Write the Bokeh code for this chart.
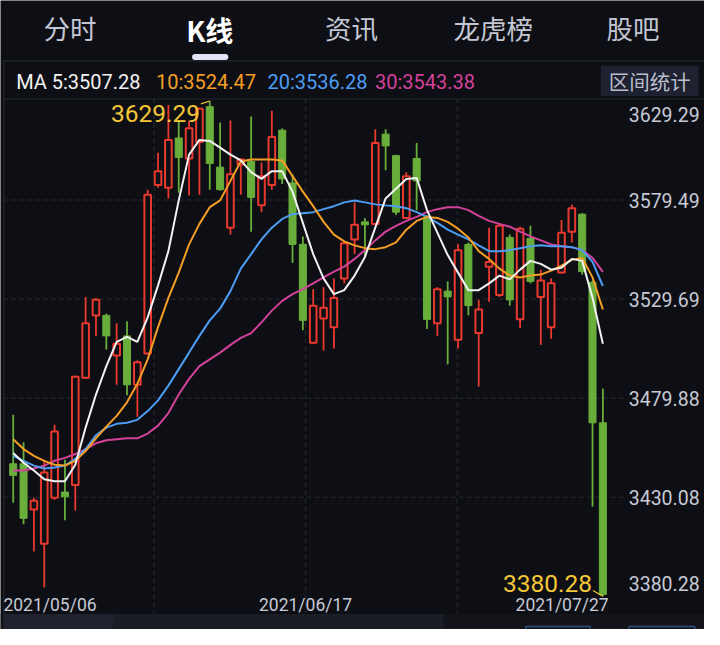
from bokeh.plotting import figure
from bokeh.models import Range1d
from bokeh.core.properties import value
from bokeh.embed import file_html
from bokeh.resources import INLINE

# ---------------- data ----------------
dates = ["05/06", "05/07", "05/10", "05/11", "05/12", "05/13", "05/14", "05/17", "05/18", "05/19",
         "05/20", "05/21", "05/24", "05/25", "05/26", "05/27", "05/28", "05/31", "06/01", "06/02",
         "06/03", "06/04", "06/07", "06/08", "06/09", "06/10", "06/11", "06/15", "06/16", "06/17",
         "06/18", "06/21", "06/22", "06/23", "06/24", "06/25", "06/28", "06/29", "06/30", "07/01",
         "07/02", "07/05", "07/06", "07/07", "07/08", "07/09", "07/12", "07/13", "07/14", "07/15",
         "07/16", "07/19", "07/20", "07/21", "07/22", "07/23", "07/26", "07/27"]

opens = [3446.9, 3446.9, 3423.9, 3406.7, 3429.8, 3432.7, 3436.2, 3490.1, 3521.5, 3521.5,
         3501.4, 3511.2, 3486.6, 3502.3, 3587.1, 3585.7, 3610.7, 3600.4, 3608.7, 3626.4,
         3596.0, 3565.6, 3597.4, 3598.9, 3576.8, 3587.1, 3614.6, 3588.1, 3557.2, 3507.7,
         3520.0, 3515.6, 3540.1, 3559.7, 3568.5, 3567.5, 3612.6, 3601.8, 3570.5, 3600.4,
         3571.0, 3517.5, 3533.7, 3509.2, 3557.2, 3512.6, 3546.0, 3531.8, 3560.7, 3519.5,
         3560.2, 3530.8, 3515.6, 3543.0, 3563.6, 3572.4, 3538.1, 3467.5]
highs = [3471.5, 3457.7, 3429.8, 3448.4, 3466.5, 3448.9, 3491.1, 3530.8, 3530.3, 3522.4,
         3517.5, 3518.5, 3498.9, 3584.7, 3603.3, 3627.3, 3619.5, 3619.5, 3625.9, 3629.29,
         3618.5, 3619.5, 3600.4, 3621.5, 3598.4, 3624.4, 3615.5, 3592.5, 3561.2, 3534.7,
         3535.7, 3540.1, 3558.7, 3578.3, 3570.5, 3615.1, 3615.1, 3602.3, 3593.5, 3608.2,
         3571.9, 3535.7, 3538.6, 3557.2, 3558.2, 3529.3, 3565.6, 3567.5, 3562.1, 3566.0,
         3566.5, 3544.5, 3540.1, 3569.5, 3577.3, 3572.9, 3539.1, 3484.7]
lows = [3427.3, 3416.5, 3402.8, 3384.7, 3428.8, 3418.5, 3423.4, 3489.6, 3511.2, 3504.3,
        3486.6, 3481.3, 3470.5, 3501.8, 3585.7, 3580.3, 3583.2, 3581.7, 3582.2, 3584.7,
        3584.2, 3562.1, 3582.2, 3563.6, 3573.4, 3584.7, 3587.6, 3547.9, 3514.1, 3507.2,
        3503.8, 3504.8, 3537.6, 3552.3, 3550.9, 3567.0, 3594.5, 3571.9, 3570.0, 3574.4,
        3514.6, 3511.2, 3496.9, 3504.8, 3521.5, 3485.7, 3528.3, 3530.8, 3526.4, 3515.1,
        3537.6, 3506.7, 3509.7, 3542.5, 3558.2, 3542.0, 3425.4, 3380.28]
closes = [3441.1, 3419.5, 3428.3, 3442.5, 3463.1, 3430.3, 3490.6, 3517.5, 3529.3, 3511.2,
          3507.2, 3486.6, 3497.9, 3582.2, 3594.0, 3609.7, 3600.9, 3615.6, 3625.4, 3597.9,
          3584.7, 3592.5, 3599.9, 3580.8, 3591.5, 3611.2, 3590.1, 3557.2, 3519.0, 3526.4,
          3525.4, 3530.3, 3557.7, 3567.0, 3567.0, 3608.2, 3606.7, 3573.4, 3591.5, 3589.1,
          3519.5, 3534.7, 3530.8, 3554.3, 3526.4, 3524.4, 3548.4, 3566.5, 3529.3, 3565.1,
          3538.6, 3539.1, 3537.6, 3563.1, 3575.4, 3543.5, 3467.5, 3381.18]

ma5 = [3452.3, 3447.4, 3443.5, 3439.1, 3438.1, 3438.1, 3446.4, 3465.1, 3481.7, 3496.0,
       3508.2, 3510.7, 3508.2, 3520.5, 3536.6, 3553.8, 3579.3, 3602.3, 3609.7, 3609.2,
       3605.8, 3602.3, 3599.4, 3593.5, 3590.1, 3594.0, 3594.0, 3583.7, 3568.0, 3552.3,
       3540.1, 3532.2, 3534.2, 3541.5, 3550.9, 3565.6, 3580.3, 3585.2, 3590.1, 3590.6,
       3574.4, 3563.1, 3551.8, 3543.0, 3534.2, 3534.2, 3537.6, 3541.5, 3539.6, 3544.5,
       3548.9, 3547.4, 3544.5, 3545.5, 3549.9, 3548.9, 3530.3, 3507.28]
ma10 = [3459.2, 3454.3, 3450.9, 3448.4, 3446.4, 3446.0, 3448.4, 3453.3, 3459.7, 3465.6,
        3471.0, 3477.8, 3487.1, 3499.4, 3515.6, 3530.3, 3543.0, 3557.2, 3567.5, 3575.9,
        3579.3, 3589.1, 3598.9, 3599.9, 3599.9, 3599.9, 3599.4, 3591.5, 3583.7, 3576.4,
        3568.5, 3562.1, 3558.7, 3556.7, 3555.3, 3554.8, 3555.8, 3558.2, 3564.6, 3569.0,
        3571.0, 3570.5, 3568.5, 3565.1, 3560.7, 3553.8, 3549.9, 3545.0, 3541.5, 3540.6,
        3541.5, 3542.0, 3544.0, 3546.5, 3549.4, 3550.4, 3540.6, 3524.47]
ma20 = [3450.9, 3448.4, 3446.0, 3444.5, 3445.0, 3446.0, 3449.4, 3454.3, 3461.2, 3465.1,
        3467.0, 3467.5, 3469.0, 3473.4, 3478.8, 3486.2, 3494.5, 3502.8, 3511.2, 3519.0,
        3524.9, 3533.7, 3545.0, 3552.3, 3559.7, 3565.6, 3570.0, 3572.4, 3572.9, 3573.4,
        3574.9, 3576.4, 3578.3, 3579.3, 3578.3, 3577.3, 3576.8, 3576.4, 3575.4, 3573.4,
        3571.0, 3568.0, 3564.6, 3562.1, 3559.7, 3556.7, 3553.8, 3553.8, 3554.3, 3555.3,
        3556.3, 3556.7, 3556.3, 3556.3, 3555.8, 3554.3, 3548.4, 3536.28]
ma30 = [3443.5, 3443.5, 3444.5, 3446.0, 3448.4, 3449.9, 3451.8, 3454.3, 3457.2, 3458.7,
        3459.2, 3459.7, 3459.7, 3462.1, 3466.1, 3472.4, 3481.7, 3489.6, 3496.0, 3499.4,
        3502.8, 3506.7, 3510.2, 3512.6, 3518.0, 3523.9, 3528.8, 3532.2, 3534.7, 3537.6,
        3540.6, 3543.5, 3546.0, 3549.9, 3554.3, 3559.2, 3563.6, 3566.5, 3569.0, 3571.0,
        3573.4, 3574.9, 3575.9, 3575.9, 3574.4, 3571.5, 3569.0, 3567.5, 3566.1, 3563.6,
        3561.2, 3559.2, 3557.2, 3556.3, 3555.8, 3554.3, 3550.4, 3543.38]

price_ticks = [3629.29, 3579.49, 3529.69, 3479.88, 3430.08, 3380.28]
tick_labels = ["3629.29", "3579.49", "3529.69", "3479.88", "3430.08", "3380.28"]
date_labels = ["2021/05/06", "2021/06/17", "2021/07/27"]
tabs = ["分时", "K线", "资讯", "龙虎榜", "股吧"]
ma_names = ["MA 5:", "10:", "20:", "30:"]
button_text = "区间统计"

# ---------------- styling ----------------
BG = "#0e0f14"
UP = "#e8392f"
DOWN = "#69ae3b"
C_MA = ["#f2f2f2", "#f59e25", "#4c9df3", "#d2429b"]
AXIS_TXT = "#c6cad6"
GRID = "#2a2d36"
YELLOW = "#f3c737"

X0, STEP = 13.0, 10.58       # reference pixel of candle 0, pixels per candle
Y0, PPU = 103.0, 2.0401      # reference pixel of the top price, pixels per point
TOP = price_ticks[0]


def xd(px):
    return (px - X0) / STEP


def yd(py):
    return TOP - (py - Y0) / PPU


p = figure(width=704, height=629,
           x_range=Range1d(xd(0), xd(720)), y_range=Range1d(yd(645), yd(0)),
           x_axis_type=None, y_axis_type=None,
           toolbar_location=None, output_backend="svg", min_border=0)
p.outline_line_color = None
p.background_fill_color = BG
p.border_fill_color = BG


def txt(x, y, t, color, size, font="Roboto", align="left", style="normal", baseline="middle"):
    p.text(x=x, y=y, text=t, text_color=color, text_font=value(font),
           text_font_size=value(size), text_align=align, text_baseline=baseline,
           text_font_style=style)


# bottom band
p.quad(left=[xd(0)], right=[xd(720)], bottom=[yd(645)], top=[yd(629)], fill_color="#121419", line_color=None)
p.quad(left=[xd(3)], right=[xd(453)], bottom=[yd(645)], top=[yd(629)], fill_color="#1a1d26", line_color=None)
p.quad(left=[xd(3)], right=[xd(115)], bottom=[yd(645)], top=[yd(629)], fill_color="#20232f", line_color=None)
p.quad(left=[xd(537), xd(643)], right=[xd(603), xd(710)], bottom=[yd(648), yd(648)], top=[yd(642), yd(642)],
       fill_color=None, line_color="#2d4f86", line_width=1.5)

# frame lines
p.segment(x0=[xd(0)], y0=[yd(62)], x1=[xd(720)], y1=[yd(62)], line_color="#23262e", line_width=1.2)
p.segment(x0=[xd(3.5)], y0=[yd(62)], x1=[xd(3.5)], y1=[yd(629)], line_color="#23262e", line_width=1.2)
p.segment(x0=[xd(3)], y0=[yd(101)], x1=[xd(720)], y1=[yd(101)], line_color="#23262e", line_width=1.2)

# dashed grid
mid = price_ticks[1:5]
p.segment(x0=[xd(3)] * len(mid), y0=mid, x1=[xd(640)] * len(mid), y1=mid,
          line_color=GRID, line_width=1, line_dash="4 4")
vx = [xd(157), xd(312), xd(467)]
p.segment(x0=vx, y0=[yd(101)] * 3, x1=vx, y1=[yd(628)] * 3,
          line_color=GRID, line_width=1, line_dash="4 4")

# candles
idx = list(range(len(closes)))
up = [i for i in idx if closes[i] >= opens[i]]
dn = [i for i in idx if closes[i] < opens[i]]
p.segment(x0=up, y0=[lows[i] for i in up], x1=up, y1=[highs[i] for i in up], line_color=UP, line_width=1.8)
p.segment(x0=dn, y0=[lows[i] for i in dn], x1=dn, y1=[highs[i] for i in dn], line_color=DOWN, line_width=1.8)
p.vbar(x=up, width=0.64, top=[closes[i] for i in up], bottom=[opens[i] for i in up],
       fill_color=BG, line_color=UP, line_width=2)
p.vbar(x=dn, width=0.68, top=[opens[i] for i in dn], bottom=[closes[i] for i in dn],
       fill_color=DOWN, line_color=DOWN, line_width=1)

# moving averages
for series, col in zip([ma30, ma20, ma10, ma5], C_MA[::-1]):
    p.line(idx, series, line_color=col, line_width=2)

# extreme labels
hi_i = highs.index(max(highs))
lo_i = lows.index(min(lows))
txt([xd(204)], [yd(116)], [f"{highs[hi_i]:.2f}"], YELLOW, "24.5px", align="right")
p.line([xd(205), hi_i], [yd(106), highs[hi_i]], line_color=YELLOW, line_width=1.2)
txt([xd(605)], [yd(598)], [f"{lows[lo_i]:.2f}"], YELLOW, "24.5px", align="right")
p.line([xd(606), lo_i], [yd(605), lows[lo_i]], line_color=YELLOW, line_width=1.2)

# price labels on the right
label_y = [yd(117)] + price_ticks[1:5] + [yd(598)]
txt([xd(715)] * 6, label_y, tick_labels, AXIS_TXT, "19.5px", align="right")

# date labels
txt([xd(3)], [yd(620)], [date_labels[0]], AXIS_TXT, "17.5px", align="left")
txt([xd(312)], [yd(620)], [date_labels[1]], AXIS_TXT, "17.5px", align="center")
txt([xd(622)], [yd(620)], [date_labels[2]], AXIS_TXT, "17.5px", align="right")

# tabs
tab_x = [71, 214, 359, 504, 647]
for t, tx in zip(tabs, tab_x):
    if t == "K线":
        txt([xd(tx)], [yd(30)], [t], "#ffffff", "28px", font="Noto Sans CJK SC", align="center", style="bold")
    else:
        txt([xd(tx)], [yd(28)], [t], "#c3c7d3", "26.5px", font="Noto Sans CJK SC", align="center")
p.segment(x0=[xd(199)], y0=[yd(58)], x1=[xd(230)], y1=[yd(58)], line_color="#e1e5f7", line_width=6, line_cap="round")

# MA legend
ma_vals = [ma5[-1], ma10[-1], ma20[-1], ma30[-1]]
ma_x = [16, 159, 273, 383]
for name, v, mx, col in zip(ma_names, ma_vals, ma_x, C_MA):
    txt([xd(mx)], [yd(84)], [f"{name}{v:.2f}"], col, "20px")

# range statistics button
p.quad(left=[xd(614)], right=[xd(714)], bottom=[yd(98)], top=[yd(67)], fill_color="#1d2130", line_color=None)
txt([xd(664)], [yd(83)], [button_text], "#b9bdcb", "20.5px", font="Noto Sans CJK SC", align="center")

open("out.html", "w").write(file_html(p, INLINE))
